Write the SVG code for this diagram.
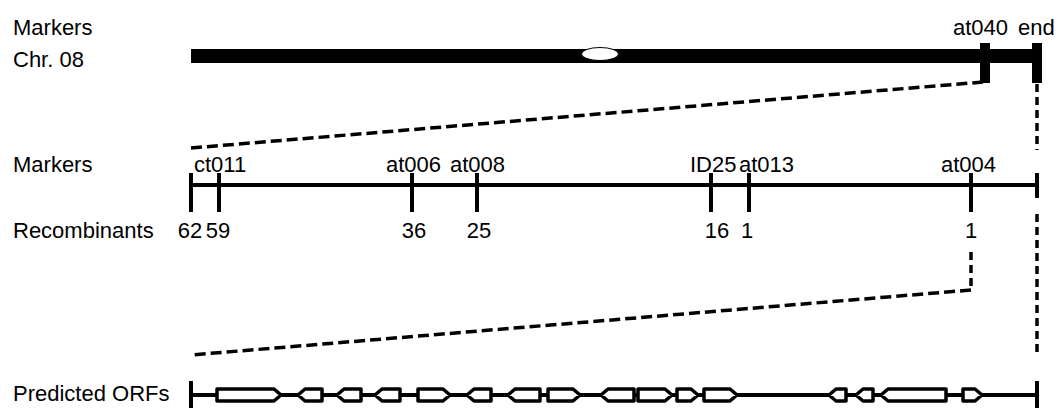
<svg xmlns="http://www.w3.org/2000/svg" width="1056" height="415" viewBox="0 0 1056 415">
  <style>
    text { font-family: "Liberation Sans", Arial, sans-serif; font-size: 22px; fill: #000; }
    .mid { text-anchor: middle; }
    .axis { stroke: #000; stroke-width: 4; fill: none; }
    .tick { stroke: #000; stroke-width: 4; }
    .dash { stroke: #000; stroke-width: 3.5; fill: none; stroke-dasharray: 11 5; }
    .dashv { stroke: #000; stroke-width: 3.5; fill: none; stroke-dasharray: 8 5; }
    .orf { fill: #fff; stroke: #000; stroke-width: 3.5; stroke-linejoin: round; }
  </style>

  <!-- Chromosome 08 overview -->
  <g id="chromosome">
    <text x="13" y="35">Markers</text>
    <text x="13" y="67">Chr. 08</text>
    <rect x="191" y="49" width="851" height="14" fill="#000"/>
    <ellipse cx="600" cy="54" rx="18.5" ry="6.5" fill="#fff" stroke="#000" stroke-width="1"/>
    <rect x="980" y="43" width="10" height="40" fill="#000"/>
    <rect x="1032" y="43" width="10" height="40" fill="#000"/>
    <text x="953" y="35">at040</text>
    <text x="1018" y="35">end</text>
  </g>

  <!-- Fine map between at040 and the chromosome end -->
  <g id="marker-map">
    <text x="13" y="172">Markers</text>
    <text x="13" y="238">Recombinants</text>
    <line class="axis" x1="191" y1="185" x2="1037" y2="185"/>
    <line class="tick" x1="191" y1="173" x2="191" y2="212"/>
    <line class="tick" x1="219" y1="173" x2="219" y2="212"/>
    <line class="tick" x1="412" y1="173" x2="412" y2="212"/>
    <line class="tick" x1="477" y1="173" x2="477" y2="212"/>
    <line class="tick" x1="711" y1="173" x2="711" y2="212"/>
    <line class="tick" x1="749" y1="173" x2="749" y2="212"/>
    <line class="tick" x1="971" y1="173" x2="971" y2="212"/>
    <line class="tick" x1="1037" y1="173" x2="1037" y2="198"/>
    <text x="194" y="172">ct011</text>
    <text x="386" y="172">at006</text>
    <text x="450" y="172">at008</text>
    <text x="690" y="172">ID25</text>
    <text x="739" y="172">at013</text>
    <text x="941" y="172">at004</text>
    <text class="mid" x="190" y="238">62</text>
    <text class="mid" x="218" y="238">59</text>
    <text class="mid" x="414" y="238">36</text>
    <text class="mid" x="479" y="238">25</text>
    <text class="mid" x="717" y="238">16</text>
    <text class="mid" x="747" y="238">1</text>
    <text class="mid" x="971" y="238">1</text>
  </g>

  <!-- Predicted ORFs between at004 and the chromosome end -->
  <g id="orf-map">
    <text x="13" y="401">Predicted ORFs</text>
    <line class="axis" x1="191" y1="395" x2="1037" y2="395"/>
    <line class="tick" x1="191" y1="381" x2="191" y2="408"/>
    <line class="tick" x1="1037" y1="381" x2="1037" y2="408"/>
    <!-- right-pointing: M x1 H tip-7 L tip L tip-7 H x1 ; left-pointing mirrored -->
    <path class="orf" d="M217 389 H274 L281 395 L274 401 H217 Z"/>
    <path class="orf" d="M298 395 L305 389 H322 V401 H305 Z"/>
    <path class="orf" d="M337 395 L344 389 H361 V401 H344 Z"/>
    <path class="orf" d="M375 395 L382 389 H400 V401 H382 Z"/>
    <path class="orf" d="M418 389 H443 L450 395 L443 401 H418 Z"/>
    <path class="orf" d="M467 395 L474 389 H491 V401 H474 Z"/>
    <path class="orf" d="M508 395 L515 389 H540 V401 H515 Z"/>
    <path class="orf" d="M548 389 H573 L580 395 L573 401 H548 Z"/>
    <path class="orf" d="M601 395 L608 389 H634 V401 H608 Z"/>
    <path class="orf" d="M638 389 H665 L672 395 L665 401 H638 Z"/>
    <path class="orf" d="M677 389 H691 L698 395 L691 401 H677 Z"/>
    <path class="orf" d="M704 389 H730 L737 395 L730 401 H704 Z"/>
    <path class="orf" d="M829 395 L836 389 H846 V401 H836 Z"/>
    <path class="orf" d="M856 395 L863 389 H873 V401 H863 Z"/>
    <path class="orf" d="M881 395 L888 389 H946 V401 H888 Z"/>
    <path class="orf" d="M963 389 H975 L982 395 L975 401 H963 Z"/>
  </g>

  <!-- Zoom connectors -->
  <g id="connectors">
    <path class="dash" d="M191 148 L983 82"/>
    <path class="dashv" d="M1037 84 V150"/>
    <path class="dashv" d="M971 252 V290"/>
    <path class="dash" d="M971 290 L191 355"/>
    <path class="dashv" d="M1037 214 V352"/>
  </g>
</svg>
